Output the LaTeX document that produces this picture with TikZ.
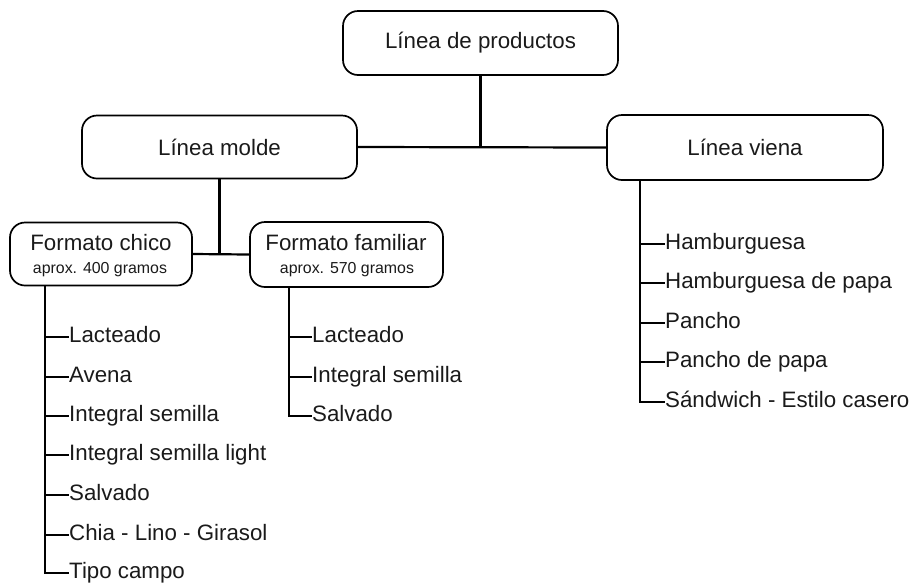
\documentclass[tikz,border=0pt]{standalone}
\usepackage{fontspec}
\setmainfont{Liberation Sans}
\definecolor{txt}{HTML}{1A1A1A}
\begin{document}
\begin{tikzpicture}[x=1pt,y=-1pt,
  every node/.style={font=\fontsize{22.3}{26}\selectfont, text=txt},
  box/.style={draw=black, line width=1.7pt, rounded corners=15pt, inner sep=0pt},
  sub/.style={font=\fontsize{15.9}{19}\selectfont, inner sep=0pt},
  item/.style={anchor=west, inner sep=0pt, text height=16pt, text depth=4.5pt},
  conn/.style={draw=black, line width=2.2pt}]
\useasboundingbox (0,0) rectangle (917,582);

% main boxes
\node[box, minimum width=275pt, minimum height=64pt] (prod) at (480.5,43) {Línea de productos};
\node[box, minimum width=275pt, minimum height=63pt] (molde) at (219.5,147) {Línea molde};
\node[box, minimum width=276pt, minimum height=65pt] (viena) at (745,147.5) {Línea viena};

% format boxes
\node[box, minimum width=182pt, minimum height=63pt] (chico) at (101,254) {};
\node[inner sep=0pt] (chicoT) at (101,243) {Formato chico};
\node[sub] (chicoS) at (100,270) {aprox. 400 gramos};
\node[box, minimum width=193pt, minimum height=65pt] (fam) at (346.5,254.5) {};
\node[inner sep=0pt] (famT) at (346,243) {Formato familiar};
\node[sub] (famS) at (347,270) {aprox. 570 gramos};

% upper connectors
\draw[conn] (molde.east) -- (viena.west);
\draw[conn] (prod.south) -- (prod.south |- molde.east);
\draw[conn] (chico.east) -- (fam.west);
\draw[conn] (molde.south) -- (molde.south |- chico.east);

% chico list
\coordinate (ct) at (chico.south -| 45,0);
\node[item] (c1) at (69,337) {Lacteado};
\node[item] (c2) at (69,377) {Avena};
\node[item] (c3) at (69,416) {Integral semilla};
\node[item] (c4) at (69,455) {Integral semilla light};
\node[item] (c5) at (69,495) {Salvado};
\node[item] (c6) at (69,535) {Chia - Lino - Girasol};
\node[item] (c7) at (69,573) {Tipo campo};
\draw[conn] (ct) |- (c7.west);
\foreach \i in {1,...,6} \draw[conn] (c\i.west -| ct) -- (c\i.west);

% familiar list
\coordinate (ft) at (fam.south -| 289,0);
\node[item] (f1) at (312,337) {Lacteado};
\node[item] (f2) at (312,377) {Integral semilla};
\node[item] (f3) at (312,416) {Salvado};
\draw[conn] (ft) |- (f3.west);
\foreach \i in {1,2} \draw[conn] (f\i.west -| ft) -- (f\i.west);

% viena list
\coordinate (vt) at (viena.south -| 640,0);
\node[item] (v1) at (665,244) {Hamburguesa};
\node[item] (v2) at (665,283) {Hamburguesa de papa};
\node[item] (v3) at (665,323) {Pancho};
\node[item] (v4) at (665,362) {Pancho de papa};
\node[item] (v5) at (665,402) {Sándwich - Estilo casero};
\draw[conn] (vt) |- (v5.west);
\foreach \i in {1,...,4} \draw[conn] (v\i.west -| vt) -- (v\i.west);
\end{tikzpicture}
\end{document}
